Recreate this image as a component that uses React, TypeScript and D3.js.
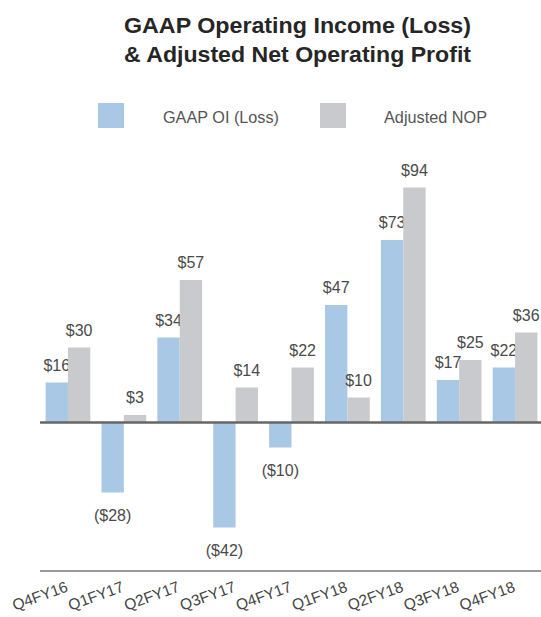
import React from "react";
import * as d3 from "d3";

const categories = ["Q4FY16", "Q1FY17", "Q2FY17", "Q3FY17", "Q4FY17", "Q1FY18", "Q2FY18", "Q3FY18", "Q4FY18"];
const gaapOI = [16, -28, 34, -42, -10, 47, 73, 17, 22];
const adjustedNOP = [30, 3, 57, 14, 22, 10, 94, 25, 36];
const seriesNames = ["GAAP OI (Loss)", "Adjusted NOP"];
const seriesColors = ["#a9c8e5", "#c9cacd"];
const titleLines = ["GAAP Operating Income (Loss)", "& Adjusted Net Operating Profit"];

const W = 541;
const H = 617;
const FONT = "'Liberation Sans', Arial, Helvetica, sans-serif";

function fmt(v: number) {
  return v < 0 ? `($${Math.abs(v)})` : `$${v}`;
}

export default function App() {
  const x = d3.scaleBand<string>().domain(categories).range([40, 543]).paddingInner(0.2).paddingOuter(0.1);
  const xs = d3.scaleBand<string>().domain(["0", "1"]).range([0, x.bandwidth()]).padding(0);
  const y = d3.scaleLinear().domain([-50, 100]).range([547.5, 172.5]);
  const series = [gaapOI, adjustedNOP];

  return (
    <svg width={W} height={H} style={{ position: "absolute", left: 0, top: 0, background: "#fff" }} fontFamily={FONT}>
      {titleLines.map((t, i) => (
        <text key={t} x={297.5} y={33 + i * 29} textAnchor="middle" fontSize={22.5} fontWeight="bold" fill="#262626" textLength={347} lengthAdjust="spacingAndGlyphs">
          {t}
        </text>
      ))}
      {/* legend */}
      <g>
        <rect x={98} y={103} width={26} height={25} fill={seriesColors[0]} />
        <text x={163} y={122.5} fontSize={16} fill="#555" textLength={116} lengthAdjust="spacingAndGlyphs">{seriesNames[0]}</text>
        <rect x={320} y={103} width={26} height={25} fill={seriesColors[1]} />
        <text x={384} y={122.5} fontSize={16} fill="#555" textLength={103} lengthAdjust="spacingAndGlyphs">{seriesNames[1]}</text>
      </g>
      {/* bars */}
      {categories.map((c, i) => (
        <g key={c} transform={`translate(${x(c)},0)`}>
          {series.map((s, k) => {
            const v = s[i];
            const bx = xs(String(k))!;
            const bw = xs.bandwidth();
            const top = Math.min(y(v), y(0));
            const h = Math.abs(y(v) - y(0));
            return (
              <g key={k}>
                <rect x={bx} y={top} width={bw} height={h} fill={seriesColors[k]} />
                <text
                  x={bx + bw / 2}
                  y={v >= 0 ? y(v) - 12 : y(v) + 28}
                  textAnchor="middle"
                  fontSize={16}
                  fill="#4a4a4a"
                >
                  {fmt(v)}
                </text>
              </g>
            );
          })}
        </g>
      ))}
      {/* zero line */}
      <line x1={40} x2={541} y1={y(0)} y2={y(0)} stroke="#666" strokeWidth={2.5} />
      {/* bottom axis */}
      <line x1={40} x2={541} y1={571} y2={571} stroke="#999" strokeWidth={2} />
      {categories.map((c) => {
        const cx = x(c)! + x.bandwidth() / 2;
        return (
          <text key={c} transform={`translate(${cx + 1},${591}) rotate(-20)`} textAnchor="end" fontSize={15.5} fill="#444">
            {c}
          </text>
        );
      })}
    </svg>
  );
}
